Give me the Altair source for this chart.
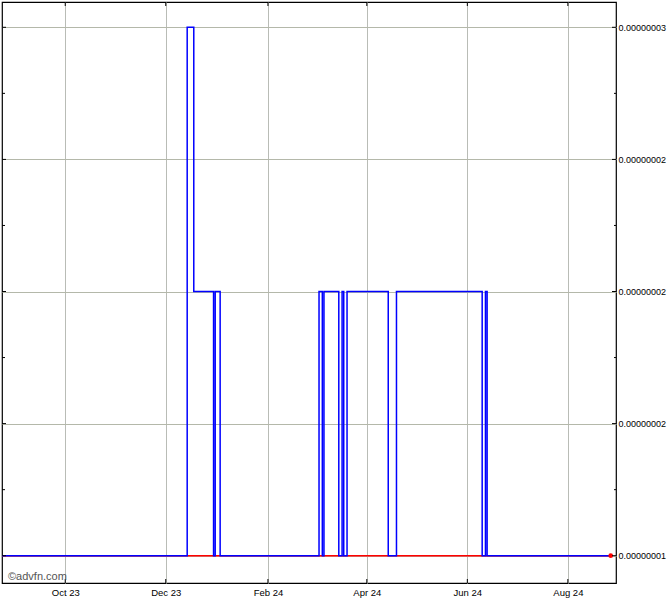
import altair as alt
import pandas as pd

# --- data ---
dates = ["2023-08-23", "2023-12-14", "2023-12-18", "2023-12-30", "2023-12-31", "2024-01-03",
         "2024-03-03", "2024-03-05", "2024-03-06", "2024-03-15", "2024-03-17", "2024-03-18",
         "2024-03-20", "2024-04-14", "2024-04-19", "2024-06-10", "2024-06-12", "2024-06-13",
         "2024-08-27"]
prices = [1e-8, 3e-8, 2e-8, 1e-8, 2e-8, 1e-8,
          2e-8, 1e-8, 2e-8, 1e-8, 2e-8, 1e-8,
          2e-8, 1e-8, 2e-8, 1e-8, 2e-8, 1e-8,
          1e-8]
red_dates = ["2023-08-23", "2024-08-27"]
red_prices = [1e-8, 1e-8]

month_ticks = ["2023-10-01", "2023-12-01", "2024-02-01", "2024-04-01", "2024-06-01", "2024-08-01"]
y_major = [1e-8, 1.5e-8, 2e-8, 2.5e-8, 3e-8]
y_minor = [1.25e-8, 1.75e-8, 2.25e-8, 2.75e-8]

df = pd.DataFrame({"date": [d + "T00:00:00" for d in dates], "price": prices})
red = pd.DataFrame({"date": [d + "T00:00:00" for d in red_dates], "price": red_prices})
dot = red.tail(1)
mt = pd.DataFrame({"date": [d + "T00:00:00" for d in month_ticks]})
ymaj = pd.DataFrame({"price": y_major})
ymin = pd.DataFrame({"price": y_minor})

label_expr = (
    "datum.value < 1.2e-8 ? '0.00000001' : datum.value > 2.9e-8 ? '0.00000003' : '0.00000002'"
)

FONT = "Liberation Sans"

x_scale = alt.Scale(domain=[alt.DateTime(year=2023, month=8, date=23, hours=15),
                            alt.DateTime(year=2024, month=8, date=30, hours=5)])
y_scale = alt.Scale(domain=[0.8967e-8, 3.0958e-8], zero=False, nice=False)

x_axis = alt.Axis(values=[alt.DateTime(year=int(d[:4]), month=int(d[5:7]), date=1) for d in month_ticks],
                  format="%b %y", title=None, ticks=False, domain=False, grid=True,
                  gridColor="#b9bcb6", gridWidth=1, labelFont=FONT, labelFontSize=9.5,
                  labelColor="#000000", labelPadding=4)
y_axis = alt.Axis(values=y_major, orient="right", labelExpr=label_expr, title=None,
                  ticks=False, domain=False, grid=True, gridColor="#b4b8aa", gridWidth=1,
                  labelFont=FONT, labelFontSize=9, labelColor="#000000", labelPadding=2)

X = alt.X("date:T", scale=x_scale, axis=x_axis)
Y = alt.Y("price:Q", scale=y_scale, axis=y_axis)

red_line = alt.Chart(red).mark_line(color="#ff0000", strokeWidth=1.5, clip=True).encode(x=X, y=Y)
blue_line = alt.Chart(df).mark_line(color="#0000ff", strokeWidth=1.5, interpolate="step-after",
                                    clip=True).encode(x="date:T", y="price:Q")
end_dot = alt.Chart(dot).mark_circle(color="#ff0000", size=22, opacity=1).encode(x="date:T", y="price:Q")

# inward ticks
top_ticks = alt.Chart(mt).mark_rule(color="#000000", strokeWidth=1).encode(
    x="date:T", y=alt.value(0), y2=alt.value(4))
bot_ticks = alt.Chart(mt).mark_rule(color="#000000", strokeWidth=1).encode(
    x="date:T", y=alt.value(581), y2=alt.value(577))
r_major = alt.Chart(ymaj).mark_rule(color="#000000", strokeWidth=1).encode(
    y="price:Q", x=alt.value(610), x2=alt.value(614))
r_minor = alt.Chart(ymin).mark_rule(color="#000000", strokeWidth=1).encode(
    y="price:Q", x=alt.value(612), x2=alt.value(614))
l_major = alt.Chart(ymaj).mark_rule(color="#000000", strokeWidth=1).encode(
    y="price:Q", x=alt.value(0), x2=alt.value(4))
l_minor = alt.Chart(ymin).mark_rule(color="#000000", strokeWidth=1).encode(
    y="price:Q", x=alt.value(0), x2=alt.value(3))

wm = alt.Chart(pd.DataFrame({"t": ["©advfn.com"]})).mark_text(
    align="left", baseline="middle", font=FONT, fontSize=11, color="#555555").encode(
    x=alt.value(6), y=alt.value(575), text="t:N")

chart = alt.layer(red_line, blue_line, end_dot, top_ticks, bot_ticks, r_major, r_minor,
                  l_major, l_minor, wm).properties(
    width=614, height=581,
    autosize=alt.AutoSizeParams(type="none"),
    padding={"left": 2, "top": 2, "right": 54, "bottom": 17},
    background="#ffffff",
).configure_view(stroke="#000000", strokeWidth=1.2)

chart.save("out.html", embed_options={"renderer": "svg", "actions": False})
